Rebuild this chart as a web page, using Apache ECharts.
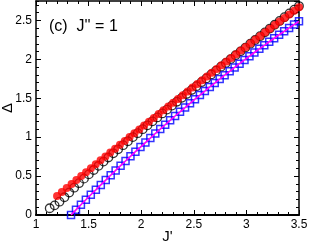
<!DOCTYPE html>
<html>
<head>
<meta charset="utf-8">
<script src="https://cdn.jsdelivr.net/npm/echarts@6/dist/echarts.min.js"></script>
<style>html,body{margin:0;padding:0;background:#fff;}#c{width:309px;height:245px;}</style>
</head>
<body>
<div id="c"></div>
<script>
var blackX = [1.130,1.177,1.223,1.270,1.316,1.363,1.409,1.456,1.502,1.549,1.595,1.642,1.688,1.735,1.781,1.828,1.874,1.921,1.967,2.014,2.060,2.107,2.153,2.200,2.246,2.293,2.339,2.386,2.432,2.479,2.525,2.572,2.618,2.665,2.711,2.758,2.804,2.851,2.897,2.944,2.990,3.037,3.083,3.130,3.176,3.223,3.269,3.316,3.362,3.409,3.455,3.500];
var blackY = [0.087,0.124,0.171,0.228,0.289,0.351,0.409,0.467,0.522,0.578,0.632,0.686,0.739,0.793,0.844,0.897,0.948,1.001,1.051,1.103,1.153,1.204,1.254,1.305,1.355,1.406,1.455,1.506,1.555,1.606,1.655,1.707,1.755,1.806,1.855,1.906,1.954,2.004,2.053,2.103,2.151,2.201,2.249,2.298,2.347,2.396,2.445,2.494,2.542,2.591,2.639,2.685];
var redX = [1.200,1.246,1.292,1.338,1.384,1.430,1.476,1.522,1.568,1.614,1.660,1.706,1.752,1.798,1.844,1.890,1.936,1.982,2.028,2.074,2.120,2.166,2.212,2.258,2.304,2.350,2.396,2.442,2.488,2.534,2.580,2.626,2.672,2.718,2.764,2.810,2.856,2.902,2.948,2.994,3.040,3.086,3.132,3.178,3.224,3.270,3.316,3.362,3.408,3.454,3.500];
var redY = [0.245,0.296,0.347,0.398,0.449,0.500,0.550,0.601,0.651,0.702,0.752,0.802,0.852,0.902,0.952,1.001,1.051,1.100,1.150,1.199,1.248,1.297,1.346,1.394,1.443,1.492,1.540,1.588,1.637,1.685,1.733,1.781,1.829,1.876,1.924,1.971,2.019,2.066,2.113,2.160,2.207,2.254,2.300,2.347,2.393,2.440,2.486,2.532,2.578,2.624,2.670];
var blueX = [1.333,1.380,1.427,1.474,1.521,1.569,1.616,1.663,1.710,1.757,1.804,1.851,1.898,1.945,1.993,2.040,2.087,2.134,2.181,2.228,2.275,2.322,2.369,2.417,2.464,2.511,2.558,2.605,2.652,2.699,2.746,2.793,2.841,2.888,2.935,2.982,3.029,3.076,3.123,3.170,3.217,3.264,3.311,3.359,3.406,3.453,3.500];
var blueY = [0.000,0.066,0.131,0.196,0.260,0.323,0.387,0.449,0.511,0.573,0.634,0.694,0.754,0.814,0.873,0.931,0.989,1.047,1.104,1.160,1.216,1.272,1.326,1.381,1.435,1.488,1.541,1.593,1.645,1.696,1.747,1.797,1.847,1.896,1.945,1.993,2.041,2.088,2.135,2.181,2.226,2.271,2.316,2.360,2.404,2.447,2.489];
var lineX = blueX;
var lineY = blueY;
var xMin = 1, xMax = 3.5, xStep = 0.5;
var yMin = 0, yMax = 2.75, yStep = 0.5, yMinorStep = 0.1;
var panelLabel = "(c)  J'' = 1";
var xName = "J'";
var yName = "\u0394";

function pairs(xs, ys) { return xs.map(function (x, i) { return [x, ys[i]]; }); }

var FONT = 'Liberation Sans';
var chart = echarts.init(document.getElementById('c'), null, { renderer: 'canvas' });

function xAx(pos, labels, lw) {
  return {
    type: 'value', position: pos, min: xMin, max: xMax, interval: xStep,
    name: labels ? xName : '', nameLocation: 'middle', nameGap: 14, nameMoveOverlap: false,
    nameTextStyle: { fontFamily: FONT, fontSize: 15, color: '#000' },
    axisLine: { show: true, onZero: false, lineStyle: { color: '#000', width: lw } },
    axisTick: { show: true, inside: true, length: 5, lineStyle: { color: '#000', width: 1 } },
    minorTick: { show: true, splitNumber: 5, length: 3, lineStyle: { color: '#000', width: 1 } },
    axisLabel: { show: labels, margin: 4, fontFamily: FONT, fontSize: 12, color: '#000' },
    splitLine: { show: false }, minorSplitLine: { show: false }
  };
}
function yAx(pos, labels, lw, step, tickLen, showLine) {
  return {
    type: 'value', position: pos, min: yMin, max: yMax, interval: step,
    name: labels ? yName : '', nameLocation: 'middle', nameGap: 21, nameRotate: 90, nameMoveOverlap: false,
    nameTextStyle: { fontFamily: FONT, fontSize: 15, color: '#000' },
    axisLine: { show: showLine, onZero: false, lineStyle: { color: '#000', width: lw } },
    axisTick: { show: true, inside: true, length: tickLen, lineStyle: { color: '#000', width: 1 } },
    axisLabel: { show: labels, margin: 4, showMaxLabel: false, fontFamily: FONT, fontSize: 12, color: '#000' },
    splitLine: { show: false }
  };
}

chart.setOption({
  animation: false,
  backgroundColor: '#fff',
  grid: { left: 36, right: 10, top: 1, bottom: 30, containLabel: false, outerBoundsMode: 'none' },
  xAxis: [xAx('bottom', true, 2), xAx('top', false, 1.5)],
  yAxis: [
    yAx('left', true, 1.5, yStep, 5, true),
    yAx('left', false, 1.5, yMinorStep, 3, false),
    yAx('right', false, 1.5, yStep, 5, true),
    yAx('right', false, 1.5, yMinorStep, 3, false)
  ],
  graphic: [{
    type: 'text', x: 49, y: 27, z: 100,
    style: { text: panelLabel, font: '16px "Liberation Sans"', fill: '#000', textVerticalAlign: 'middle' }
  }],
  series: [
    { type: 'scatter', xAxisIndex: 0, yAxisIndex: 0, data: pairs(blackX, blackY), symbol: 'circle', symbolSize: 8.5,
      itemStyle: { color: 'rgba(0,0,0,0)', borderColor: '#000', borderWidth: 1.3 }, z: 2 },
    { type: 'scatter', xAxisIndex: 0, yAxisIndex: 0, data: pairs(redX, redY), symbol: 'circle', symbolSize: 8,
      itemStyle: { color: '#ff0000', borderWidth: 0 }, z: 3 },
    { type: 'scatter', xAxisIndex: 0, yAxisIndex: 0, data: pairs(blueX, blueY), symbol: 'rect', symbolSize: 7,
      itemStyle: { color: 'rgba(0,0,0,0)', borderColor: '#0000ff', borderWidth: 1.5 }, z: 4 },
    { type: 'line', xAxisIndex: 0, yAxisIndex: 0, data: pairs(lineX, lineY), showSymbol: false, symbol: 'none',
      lineStyle: { color: '#ff00ff', width: 1.6 }, z: 5 }
  ]
});
</script>
</body>
</html>
